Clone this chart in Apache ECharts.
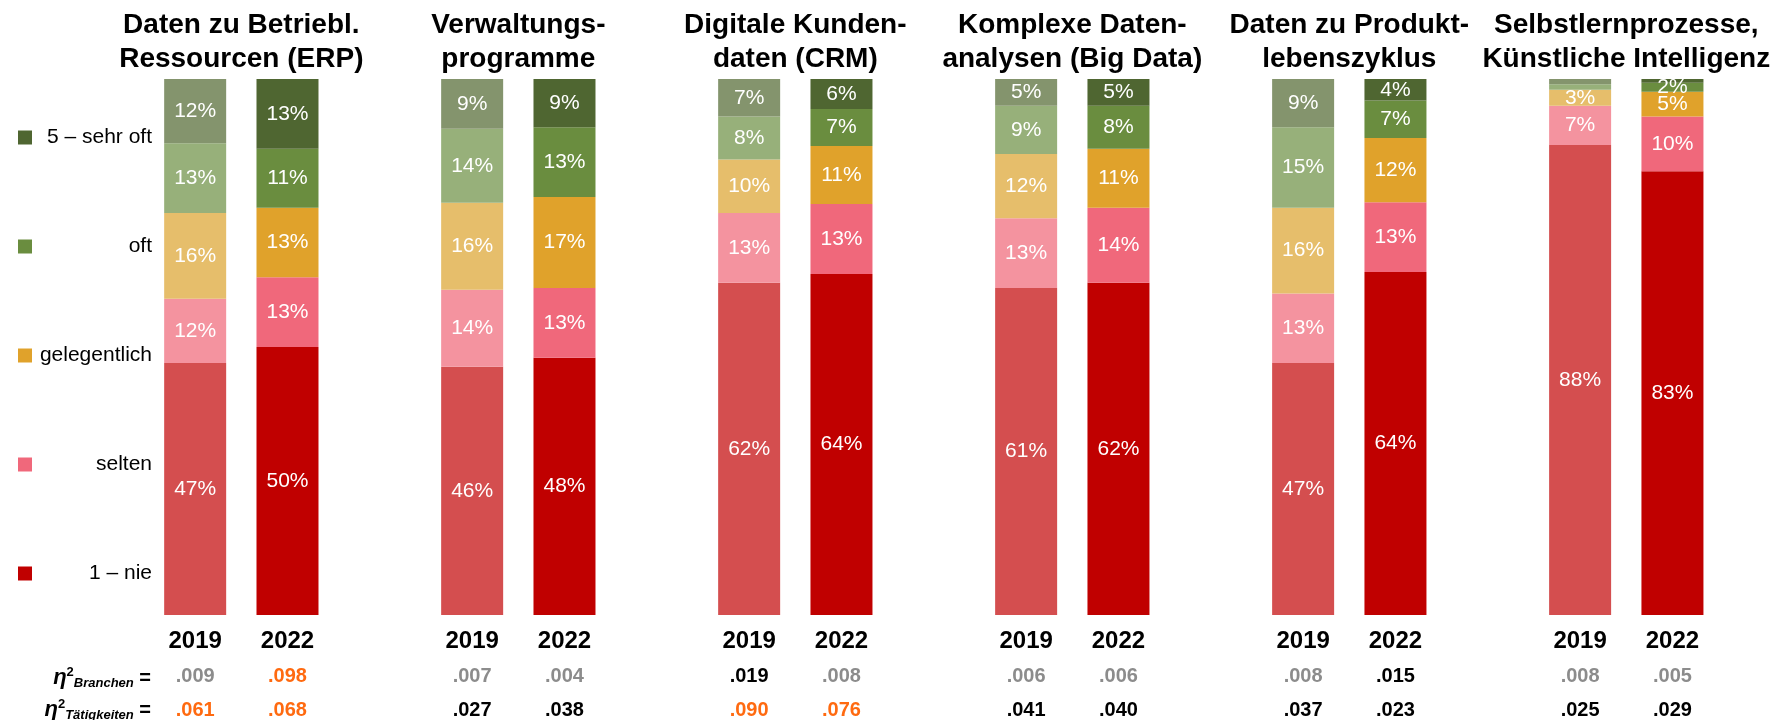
<!DOCTYPE html>
<html>
<head>
<meta charset="utf-8">
<script src="https://cdn.jsdelivr.net/npm/echarts@6/dist/echarts.min.js"></script>
<style>
  html, body { margin: 0; padding: 0; background: #fff; }
  #chart { width: 1779px; height: 720px; }
</style>
</head>
<body>
<div id="chart"></div>
<script>
// Software areas (two-line titles)
const groups = [
  'Daten zu Betriebl.\nRessourcen (ERP)',
  'Verwaltungs-\nprogramme',
  'Digitale Kunden-\ndaten (CRM)',
  'Komplexe Daten-\nanalysen (Big Data)',
  'Daten zu Produkt-\nlebenszyklus',
  'Selbstlernprozesse,\nKünstliche Intelligenz'
];
const years = ['2019', '2022'];
const levels = ['1 – nie', 'selten', 'gelegentlich', 'oft', '5 – sehr oft'];

// Shares in percent, one value per software area
const nie2019      = [47, 46.3, 62, 61, 47, 87.7];
const selten2019   = [12, 14.4, 13, 13, 13, 7.3];
const gel2019      = [16, 16.2, 10, 12, 16, 3.0];
const oft2019      = [13, 13.8, 8, 9, 15, 1.0];
const sehrOft2019  = [12, 9.3, 7, 5, 9, 1.0];

const nie2022      = [50, 48, 63.6, 62, 64, 82.8];
const selten2022   = [13, 13, 13.1, 14, 13, 10.2];
const gel2022      = [13, 17, 10.8, 11, 12, 4.6];
const oft2022      = [11, 13, 6.9, 8, 7, 1.7];
const sehrOft2022  = [13, 9, 5.6, 5, 4, 0.7];

// Effect sizes (eta squared)
const etaBranchen2019    = [0.009, 0.007, 0.019, 0.006, 0.008, 0.008];
const etaBranchen2022    = [0.098, 0.004, 0.008, 0.006, 0.015, 0.005];
const etaTaetigkeit2019  = [0.061, 0.027, 0.090, 0.041, 0.037, 0.025];
const etaTaetigkeit2022  = [0.068, 0.038, 0.076, 0.040, 0.023, 0.029];

const colors2019 = ['#D44E4F', '#F4939F', '#E6BE6B', '#97B07A', '#84946D'];
const colors2022 = ['#C00000', '#F0687B', '#E0A22B', '#6A8D3F', '#4F6631'];

const FONT = '"Liberation Sans", Arial, Helvetica, sans-serif';

// Layout: each area gets three equal slots (2019, 2022, spacer)
const GRID_LEFT = 149;
const SLOT = 92.33;
const GRID_TOP = 79;
const GRID_BOTTOM = 103;

const xCats = [];
groups.forEach((g, gi) => {
  years.forEach(y => xCats.push(y));
  if (gi < groups.length - 1) xCats.push('');
});

const values2019 = [nie2019, selten2019, gel2019, oft2019, sehrOft2019];
const values2022 = [nie2022, selten2022, gel2022, oft2022, sehrOft2022];

function slotData(arr, yearIdx) {
  const d = xCats.map(() => '-');
  arr.forEach((v, gi) => { d[gi * 3 + yearIdx] = v; });
  return d;
}

function makeSeries(name, data, color) {
  return {
    name: name,
    type: 'bar',
    stack: 'share',
    barWidth: 62,
    data: data,
    itemStyle: { color: color },
    emphasis: { disabled: true },
    label: {
      show: true,
      position: 'inside',
      color: '#fff',
      fontFamily: FONT,
      fontSize: 21,
      formatter: p => (typeof p.value === 'number' && p.value >= 1.5) ? Math.round(p.value) + '%' : ''
    }
  };
}

const series = [];
// 2022 first so the legend swatches take the 2022 colours
levels.forEach((lv, i) => series.push(makeSeries(lv, slotData(values2022[i], 1), colors2022[i])));
levels.forEach((lv, i) => series.push(makeSeries(lv, slotData(values2019[i], 0), colors2019[i])));

function etaStyle(v) {
  if (v >= 0.06) return 'o';
  if (v >= 0.01) return 'k';
  return 'g';
}
function etaText(v) {
  return v.toFixed(3).replace(/^0/, '');
}

const etaRich = {
  y: { fontFamily: FONT, fontSize: 24, fontWeight: 'bold', color: '#000', lineHeight: 36 },
  g: { fontFamily: FONT, fontSize: 20, fontWeight: 'bold', color: '#8C8C8C', lineHeight: 34 },
  k: { fontFamily: FONT, fontSize: 20, fontWeight: 'bold', color: '#000', lineHeight: 34 },
  o: { fontFamily: FONT, fontSize: 20, fontWeight: 'bold', color: '#FF6A10', lineHeight: 34 }
};

const titleGraphics = groups.map((g, gi) => ({
  type: 'text',
  x: GRID_LEFT + (3 * gi + 1) * SLOT,
  y: 8,
  style: {
    text: g,
    textAlign: 'center',
    textVerticalAlign: 'top',
    font: 'bold 28px ' + FONT,
    lineHeight: 34,
    fill: '#000'
  }
}));

const etaRowRich = {
  e: { fontFamily: FONT, fontSize: 22, fontWeight: 'bold', fontStyle: 'italic', fill: '#000', lineHeight: 24 },
  s: { fontFamily: FONT, fontSize: 13, fontWeight: 'bold', fill: '#000', verticalAlign: 'top', lineHeight: 12 },
  b: { fontFamily: FONT, fontSize: 13, fontWeight: 'bold', fontStyle: 'italic', fill: '#000', verticalAlign: 'bottom', lineHeight: 14 },
  q: { fontFamily: FONT, fontSize: 20, fontWeight: 'bold', fill: '#000', lineHeight: 24 }
};
const rowGraphics = [
  { label: 'Branchen', y: 678 },
  { label: 'Tätigkeiten', y: 710 }
].map(r => ({
  type: 'text',
  x: 151,
  y: r.y,
  style: {
    text: '{e|η}{s|2}{b|' + r.label + '}{q| =}',
    rich: etaRowRich,
    textAlign: 'right',
    textVerticalAlign: 'middle'
  }
}));

const chart = echarts.init(document.getElementById('chart'), null, { renderer: 'canvas' });
chart.setOption({
  animation: false,
  backgroundColor: '#fff',
  grid: {
    left: GRID_LEFT,
    width: SLOT * xCats.length,
    top: GRID_TOP,
    bottom: GRID_BOTTOM
  },
  legend: {
    orient: 'vertical',
    left: 13,
    top: 122,
    itemGap: 88,
    itemWidth: 14,
    itemHeight: 14,
    icon: 'rect',
    selectedMode: false,
    data: levels.slice().reverse(),
    formatter: name => '{t|' + name + '}',
    textStyle: {
      rich: {
        t: { width: 115, align: 'right', fontFamily: FONT, fontSize: 21, color: '#000', lineHeight: 24 }
      }
    }
  },
  xAxis: {
    type: 'category',
    data: xCats,
    axisLine: { show: false },
    axisTick: { show: false },
    axisLabel: {
      interval: 0,
      margin: 8,
      formatter: (value, idx) => {
        const gi = Math.floor(idx / 3);
        const yi = idx % 3;
        if (yi === 2) return '';
        const b = yi === 0 ? etaBranchen2019[gi] : etaBranchen2022[gi];
        const t = yi === 0 ? etaTaetigkeit2019[gi] : etaTaetigkeit2022[gi];
        return '{y|' + value + '}\n{' + etaStyle(b) + '|' + etaText(b) + '}\n{' + etaStyle(t) + '|' + etaText(t) + '}';
      },
      rich: etaRich
    }
  },
  yAxis: {
    type: 'value',
    min: 0,
    max: 100,
    show: false
  },
  graphic: titleGraphics.concat(rowGraphics),
  series: series
});
</script>
</body>
</html>
